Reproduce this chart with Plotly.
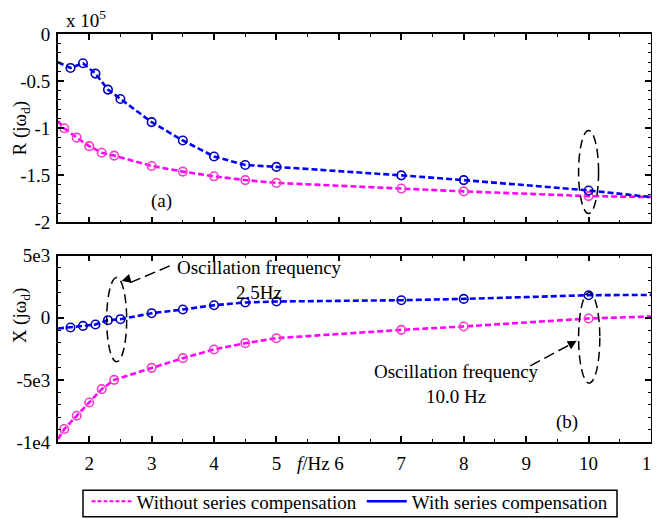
import plotly.graph_objects as go

# ---------------- data ----------------
# Marker frequencies (Hz)
f_without = [1.6, 1.8, 2.0, 2.2, 2.4, 3.0, 3.5, 4.0, 4.5, 5.0, 7.0, 8.0, 10.0]
f_with = [1.7, 1.9, 2.1, 2.3, 2.5, 3.0, 3.5, 4.0, 4.5, 5.0, 7.0, 8.0, 10.0]

# R(j w_d) in units of 1e5
R_without = [-1.00, -1.10, -1.19, -1.26, -1.29, -1.40, -1.46, -1.51, -1.55, -1.58, -1.64, -1.67, -1.72]
R_with = [-0.36, -0.31, -0.42, -0.59, -0.69, -0.935, -1.13, -1.30, -1.39, -1.41, -1.50, -1.55, -1.66]

# X(j w_d)
X_without = [-8960, -7890, -6820, -5750, -5000, -4035, -3256, -2556, -2050, -1648, -980, -707, -64]
X_with = [-790, -660, -547, -200, -120, 362, 660, 1005, 1222, 1302, 1407, 1511, 1809]

# curve end points (f = 1.5 Hz and f = 11 Hz)
f_ends = [1.5, 11.0]
R_without_ends = [-0.925, -1.73]
R_with_ends = [-0.30, -1.73]
X_without_ends = [-9770, 96]
X_with_ends = [-870, 1833]

x_ticks = [2, 3, 4, 5, 6, 7, 8, 9, 10, 11]
R_ticks = [0, -0.5, -1, -1.5, -2]
R_ticktext = ["0", "-0.5", "-1", "-1.5", "-2"]
X_ticks = [5000, 0, -5000, -10000]
X_ticktext = ["5e3", "0", "-5e3", "-1e4"]

legend_names = ["Without series compensation", "With series compensation"]

# ---------------- style ----------------
MAG_LINE = "#ff00ff"
MAG_MARK = "#f23fc6"
BLU_LINE = "#0000ff"
BLU_MARK = "#0000b8"
FONT = "Liberation Serif, Times New Roman, serif"
FS = 19

# page body has an 8px default margin -> figure is 8px smaller and offset
W, H = 652, 511
L, R_, T, B = 50, 9, 25.5, 77.3
PW = W - L - R_
PH = H - T - B

def line_xy(f_pts, v_pts, f_e, v_e):
    f = [f_e[0]] + list(f_pts) + [f_e[1]]
    v = [v_e[0]] + list(v_pts) + [v_e[1]]
    return f, v

fig = go.Figure()

def add_series(f_pts, v_pts, f_e, v_e, lc, mc, xa, ya):
    fx, vy = line_xy(f_pts, v_pts, f_e, v_e)
    fig.add_trace(go.Scatter(x=fx, y=vy, mode="lines", xaxis=xa, yaxis=ya,
                             line=dict(color=lc, width=2.6, dash="6px,3px"),
                             showlegend=False, hoverinfo="skip"))
    fig.add_trace(go.Scatter(x=f_pts, y=v_pts, mode="markers", xaxis=xa, yaxis=ya,
                             marker=dict(symbol="circle-open", size=8.5, color=mc,
                                         line=dict(width=1.6, color=mc)),
                             showlegend=False))

add_series(f_without, R_without, f_ends, R_without_ends, MAG_LINE, MAG_MARK, "x", "y")
add_series(f_with, R_with, f_ends, R_with_ends, BLU_LINE, BLU_MARK, "x", "y")
add_series(f_without, X_without, f_ends, X_without_ends, MAG_LINE, MAG_MARK, "x2", "y2")
add_series(f_with, X_with, f_ends, X_with_ends, BLU_LINE, BLU_MARK, "x2", "y2")

# legend entries
fig.add_trace(go.Scatter(x=[None], y=[None], mode="lines", name=legend_names[0],
                         line=dict(color=MAG_LINE, width=2, dash="4px,2px")))
fig.add_trace(go.Scatter(x=[None], y=[None], mode="lines", name=legend_names[1],
                         line=dict(color=BLU_LINE, width=2.5)))

axis_common = dict(showline=True, linecolor="black", linewidth=1.8, mirror="ticks",
                   ticks="inside", ticklen=6, tickwidth=1.5, tickcolor="black",
                   showgrid=False, zeroline=False, ticklabeloverflow="allow",
                   tickfont=dict(family=FONT, size=FS, color="black"),
                   minor=dict(ticks="inside", ticklen=3, tickwidth=1, tickcolor="black", nticks=5))

def px_x(px):  # screen px -> paper x
    return (px - 8 - L) / PW

def px_y(py):  # screen px -> paper y
    return (H - B - (py - 8)) / PH

fig.update_layout(
    width=W, height=H,
    margin=dict(l=L, r=R_, t=T, b=B, pad=0, autoexpand=False),
    paper_bgcolor="white", plot_bgcolor="white",
    font=dict(family=FONT, size=FS, color="black"),
    xaxis=dict(domain=[0, 1], range=[1.5, 11], tickvals=x_ticks, showticklabels=False,
               anchor="y", **axis_common),
    yaxis=dict(domain=[0.538, 1], range=[-2, 0], tickvals=R_ticks, ticktext=R_ticktext,
               anchor="x", ticklabelstandoff=2, **axis_common),
    xaxis2=dict(domain=[0, 1], range=[1.5, 11], tickvals=x_ticks, anchor="y2",
                ticklabelstandoff=3, **axis_common),
    yaxis2=dict(domain=[0, 0.457], range=[-10000, 5000], tickvals=X_ticks, ticktext=X_ticktext,
                anchor="x2", ticklabelstandoff=2, **axis_common),
    legend=dict(orientation="h", x=px_x(350), xanchor="center", y=px_y(482), yanchor="top",
                borderwidth=0, bgcolor="rgba(0,0,0,0)",
                font=dict(family=FONT, size=FS, color="black"),
                itemwidth=40, tracegroupgap=0),
    showlegend=True,
)

# legend frame
fig.add_shape(type="rect", xref="paper", yref="paper", x0=px_x(83), x1=px_x(617),
              y0=px_y(516.5), y1=px_y(490), line=dict(color="black", width=1.5))

# ellipses
shape_dash = dict(color="black", width=1.5, dash="9px,5px")
fig.add_shape(type="circle", xref="x", yref="y", x0=9.84, x1=10.16, y0=-1.905, y1=-1.024,
              line=shape_dash)
fig.add_shape(type="circle", xref="x2", yref="y2", x0=2.28, x1=2.60, y0=-3550, y1=3230,
              line=shape_dash)
fig.add_shape(type="circle", xref="x2", yref="y2", x0=9.84, x1=10.18, y0=-5265, y1=2026,
              line=shape_dash)

# dashed arrow lines
arrow_dash = dict(color="black", width=1.5, dash="11px,5px")
fig.add_shape(type="line", xref="x2", yref="y2", x0=3.29, y0=4164, x1=2.60, y1=2700,
              line=arrow_dash)
fig.add_shape(type="line", xref="x2", yref="y2", x0=9.065, y0=-3875, x1=9.70, y1=-2170,
              line=arrow_dash)
# arrow heads
fig.add_annotation(xref="x2", yref="y2", x=2.52, y=2958, ax=10, ay=-3, text="",
                   showarrow=True, arrowhead=2, arrowsize=1.2, arrowwidth=1.5, arrowcolor="black")
fig.add_annotation(xref="x2", yref="y2", x=9.81, y=-1865, ax=-9, ay=5, text="",
                   showarrow=True, arrowhead=2, arrowsize=1.2, arrowwidth=1.5, arrowcolor="black")

# texts
fig.add_annotation(xref="x2", yref="y2", x=4.735, y=3015, text="Oscillation frequency<br>2.5Hz",
                   showarrow=False, font=dict(size=FS), align="center")
fig.add_annotation(xref="x2", yref="y2", x=7.878, y=-5322, text="Oscillation frequency<br>10.0 Hz",
                   showarrow=False, font=dict(size=FS), align="center")
fig.add_annotation(xref="x", yref="y", x=3.163, y=-1.767, text="(a)", showarrow=False)
fig.add_annotation(xref="x2", yref="y2", x=9.65, y=-8377, text="(b)", showarrow=False)

# exponent label
fig.add_annotation(xref="paper", yref="paper", x=px_x(86), y=px_y(18),
                   text="x 10<sup>5</sup>", showarrow=False, xanchor="center", yanchor="middle")

# axis titles
fig.add_annotation(xref="paper", yref="paper", x=px_x(21), y=px_y(128),
                   text="R (jω<sub>d</sub>)", textangle=-90, showarrow=False,
                   xanchor="center", yanchor="middle")
fig.add_annotation(xref="paper", yref="paper", x=px_x(21), y=px_y(315),
                   text="X (jω<sub>d</sub>)", textangle=-90, showarrow=False,
                   xanchor="center", yanchor="middle")
fig.add_annotation(xref="paper", yref="paper", x=px_x(313), y=px_y(463),
                   text="<i>f</i>/Hz", showarrow=False, xanchor="center", yanchor="middle")

fig.write_html("out.html")
